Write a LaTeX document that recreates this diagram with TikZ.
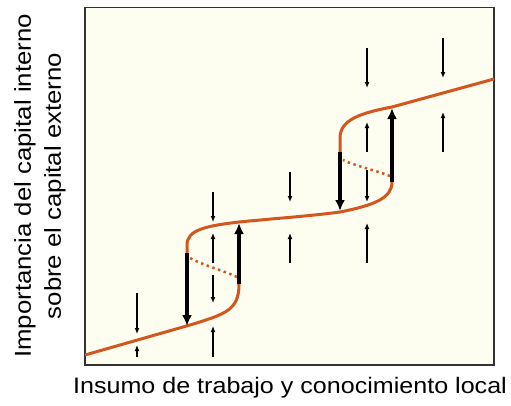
\documentclass[tikz,border=0pt]{standalone}
\usepackage{fontspec}
\setmainfont{Liberation Sans}[FakeStretch=1.12]
\usetikzlibrary{arrows.meta}
\definecolor{curvecol}{HTML}{D2561E}
\definecolor{panel}{HTML}{FDFDF0}
\definecolor{framecol}{HTML}{333333}

\begin{document}
\begin{tikzpicture}
  [x=1pt, y=-1pt, >={Latex[length=6pt, width=5pt]},
   branch/.style={draw=curvecol, line width=3pt},
   unstable/.style={draw=curvecol, line width=2.5pt, dash pattern=on 2.5pt off 3.5pt},
   jump/.style={>={Latex[length=11pt, width=10pt]}, ->, line width=4pt},
   flow/.style={->, line width=1.2pt}]
  \useasboundingbox (0,0) rectangle (511,405);
  \draw [fill=panel, draw=framecol, line width=1.5pt] (85,7.5) rectangle (494,365);

  \begin{scope}
    \clip (85,7.5) rectangle (494,365);
    \draw [branch] (85,355) -- (190,325) .. controls (226,314) and (239,310) .. (239,284);
    \draw [unstable] (237,277) .. controls (222,270) and (205,266) .. (190,258);
    \draw [branch] (187,253) -- (187,245) .. controls (187,230) and (205,226) .. (239,222)
      .. controls (280,218) and (310,216) .. (340,212) .. controls (375,205) and (392,198) .. (392,182);
    \draw [unstable] (390,176) .. controls (375,170) and (355,166) .. (343,160);
    \draw [branch] (340,152) -- (340,138) .. controls (340,120) and (360,113) .. (392,107) -- (494,79);
  \end{scope}

  \foreach \x/\a/\b in {187/253/326, 239/284/223, 340/152/211, 392/182/108}
    \draw [jump] (\x,\a) -- (\x,\b);

  \foreach \x/\a/\b in {137/293/334, 137/357/345, 213/192/222, 213/263/233, 213/275/303, 213/357/326,
                        290/172/202, 290/263/233, 367/48/88, 367/152/122, 367/170/202, 367/263/223,
                        443/38/78, 443/152/112}
    \draw [flow] (\x,\a) -- (\x,\b);

  \node (xlabel) [anchor=base, font=\fontsize{22.4}{26}\selectfont] at (290,393)
    {Insumo de trabajo y conocimiento local};
  \node (ylabel) [rotate=90, align=center, font=\fontsize{23}{30}\selectfont] at (40,186)
    {Importancia del capital interno\\sobre el capital externo};
\end{tikzpicture}
\end{document}
